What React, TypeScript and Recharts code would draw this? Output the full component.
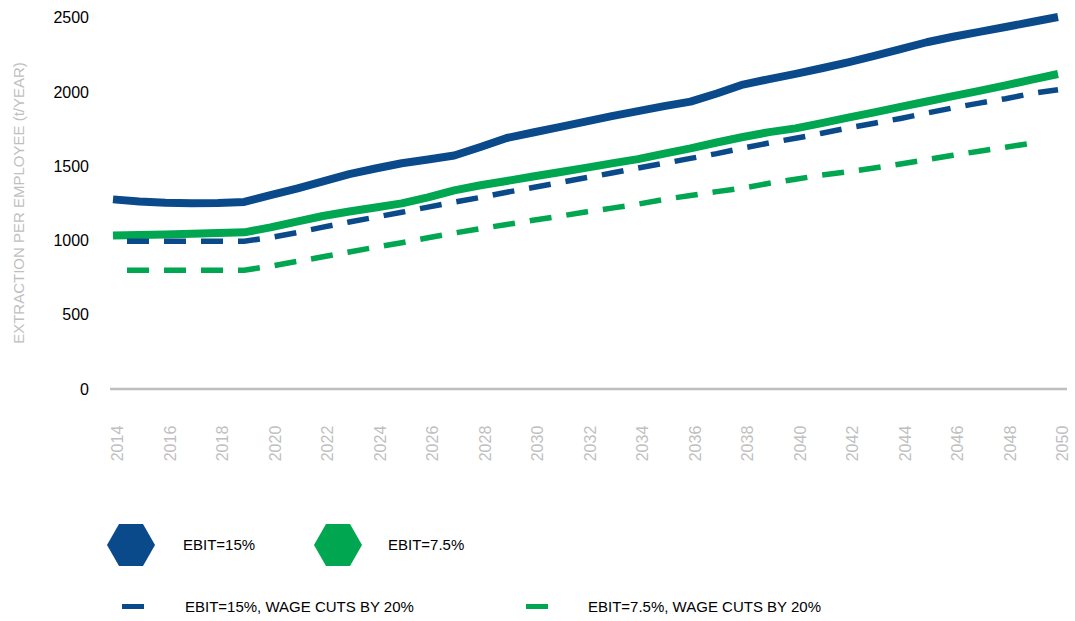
import { LineChart, Line, XAxis, YAxis, Label } from "recharts";

// ---------------------------------------------------------------------------
// Data (t/year per employee)
// ---------------------------------------------------------------------------
const years = [
  2014, 2015, 2016, 2017, 2018, 2019, 2020, 2021, 2022, 2023, 2024, 2025, 2026,
  2027, 2028, 2029, 2030, 2031, 2032, 2033, 2034, 2035, 2036, 2037, 2038, 2039,
  2040, 2041, 2042, 2043, 2044, 2045, 2046, 2047, 2048, 2049, 2050,
];

const ebit15 = [
  1277, 1262, 1254, 1250, 1252, 1260, 1305, 1350, 1398, 1447, 1485, 1520, 1545,
  1572, 1630, 1690, 1727, 1763, 1800, 1837, 1871, 1905, 1935, 1990, 2050, 2087,
  2122, 2160, 2200, 2243, 2288, 2335, 2372, 2405, 2438, 2471, 2505,
];

const ebit75 = [
  1033, 1037, 1040, 1045, 1050, 1055, 1088, 1127, 1165, 1195, 1222, 1250, 1291,
  1337, 1372, 1401, 1431, 1460, 1489, 1519, 1548, 1585, 1620, 1660, 1697, 1730,
  1755, 1790, 1827, 1863, 1900, 1936, 1972, 2008, 2045, 2083, 2121,
];

const ebit15Cut = [
  995, 995, 995, 995, 995, 995, 1020, 1053, 1090, 1125, 1157, 1190, 1225, 1258,
  1290, 1325, 1357, 1390, 1422, 1454, 1488, 1520, 1553, 1585, 1622, 1657, 1688,
  1722, 1758, 1790, 1822, 1858, 1893, 1925, 1955, 1990, 2015,
];

const ebit75Cut = [
  800, 800, 800, 800, 800, 800, 827, 859, 890, 923, 955, 985, 1018, 1050, 1080,
  1108, 1136, 1163, 1192, 1218, 1245, 1277, 1303, 1329, 1353, 1385, 1413, 1440,
  1463, 1488, 1515, 1544, 1574, 1601, 1628, 1655, null,
];

const seriesNames = [
  "EBIT=15%",
  "EBIT=7.5%",
  "EBIT=15%, WAGE CUTS BY 20%",
  "EBIT=7.5%, WAGE CUTS BY 20%",
];

const xTicks = [
  2014, 2016, 2018, 2020, 2022, 2024, 2026, 2028, 2030, 2032, 2034, 2036, 2038,
  2040, 2042, 2044, 2046, 2048, 2050,
];
const yTicks = [0, 500, 1000, 1500, 2000, 2500];

const BLUE = "#0B4A8A";
const GREEN = "#00A650";
const GREY = "#BFBFBF";
const FONT = "'Liberation Sans', Arial, sans-serif";

const data = years.map((year, i) => ({
  year,
  ebit15: ebit15[i],
  ebit75: ebit75[i],
  ebit15Cut: ebit15Cut[i],
  ebit75Cut: ebit75Cut[i],
}));

// ---------------------------------------------------------------------------
// Axis pieces
// ---------------------------------------------------------------------------
function YearTick(props: any) {
  const { x, y, payload } = props;
  return (
    <text
      transform={`translate(${x + 4.5},${y + 54.5}) rotate(-90)`}
      textAnchor="middle"
      dominantBaseline="central"
      fill={GREY}
      fontSize={16}
      fontFamily={FONT}
    >
      {payload.value}
    </text>
  );
}

function YTitle() {
  return (
    <text
      transform="translate(18,203) rotate(-90)"
      textAnchor="middle"
      dominantBaseline="central"
      fill={GREY}
      fontSize={15}
      fontFamily={FONT}
    >
      EXTRACTION PER EMPLOYEE (t/YEAR)
    </text>
  );
}

// ---------------------------------------------------------------------------
// Legend (hexagons for solid series, short bars for dashed ones)
// ---------------------------------------------------------------------------
function Hexagon({ color }: { color: string }) {
  return (
    <svg width={48} height={42} style={{ display: "block" }}>
      <polygon points="0,21 12,0 36,0 48,21 36,42 12,42" fill={color} />
    </svg>
  );
}

const legendText: React.CSSProperties = {
  position: "absolute",
  fontFamily: FONT,
  fontSize: 15,
  color: "#000",
  whiteSpace: "nowrap",
  lineHeight: "20px",
};

function ChartLegend() {
  return (
    <>
      <div style={{ position: "absolute", left: 107, top: 524 }}>
        <Hexagon color={BLUE} />
      </div>
      <div style={{ ...legendText, left: 183, top: 535 }}>{seriesNames[0]}</div>
      <div style={{ position: "absolute", left: 314, top: 524 }}>
        <Hexagon color={GREEN} />
      </div>
      <div style={{ ...legendText, left: 388, top: 535 }}>{seriesNames[1]}</div>

      <div
        style={{ position: "absolute", left: 122, top: 604, width: 22, height: 5, background: BLUE }}
      />
      <div style={{ ...legendText, left: 185, top: 597 }}>{seriesNames[2]}</div>
      <div
        style={{ position: "absolute", left: 526, top: 604, width: 22, height: 5, background: GREEN }}
      />
      <div style={{ ...legendText, left: 588, top: 597 }}>{seriesNames[3]}</div>
    </>
  );
}

// ---------------------------------------------------------------------------
// Chart
// ---------------------------------------------------------------------------
export default function App() {
  return (
    <div
      style={{
        position: "absolute",
        left: 0,
        top: 0,
        width: 1075,
        height: 621,
        background: "#fff",
      }}
    >
      <LineChart
        width={1075}
        height={621}
        data={data}
        margin={{ top: 17, right: 8, left: 0, bottom: 0 }}
      >
        <XAxis
          dataKey="year"
          type="number"
          domain={[2014, 2050]}
          ticks={xTicks}
          interval={0}
          padding={{ left: 3, right: 9 }}
          height={232}
          axisLine={{ stroke: GREY, strokeWidth: 2.5 }}
          tickLine={false}
          tickSize={0}
          tickMargin={0}
          tick={<YearTick />}
        />
        <YAxis
          type="number"
          domain={[0, 2500]}
          ticks={yTicks}
          width={110}
          axisLine={false}
          tickLine={false}
          tickSize={0}
          tickMargin={21}
          tick={{ fill: "#000", fontSize: 16, fontFamily: FONT }}
        >
          <Label content={<YTitle />} />
        </YAxis>
        <Line
          dataKey="ebit15"
          name={seriesNames[0]}
          stroke={BLUE}
          strokeWidth={8}
          strokeLinejoin="round"
          dot={false}
          activeDot={false}
          isAnimationActive={false}
        />
        <Line
          dataKey="ebit75"
          name={seriesNames[1]}
          stroke={GREEN}
          strokeWidth={8}
          strokeLinejoin="round"
          dot={false}
          activeDot={false}
          isAnimationActive={false}
        />
        <Line
          dataKey="ebit15Cut"
          name={seriesNames[2]}
          stroke={BLUE}
          strokeWidth={5.5}
          strokeDasharray="22 15"
          strokeDashoffset={23}
          dot={false}
          activeDot={false}
          isAnimationActive={false}
        />
        <Line
          dataKey="ebit75Cut"
          name={seriesNames[3]}
          stroke={GREEN}
          strokeWidth={5.5}
          strokeDasharray="22 15"
          strokeDashoffset={23}
          dot={false}
          activeDot={false}
          isAnimationActive={false}
        />
      </LineChart>
      <ChartLegend />
    </div>
  );
}
